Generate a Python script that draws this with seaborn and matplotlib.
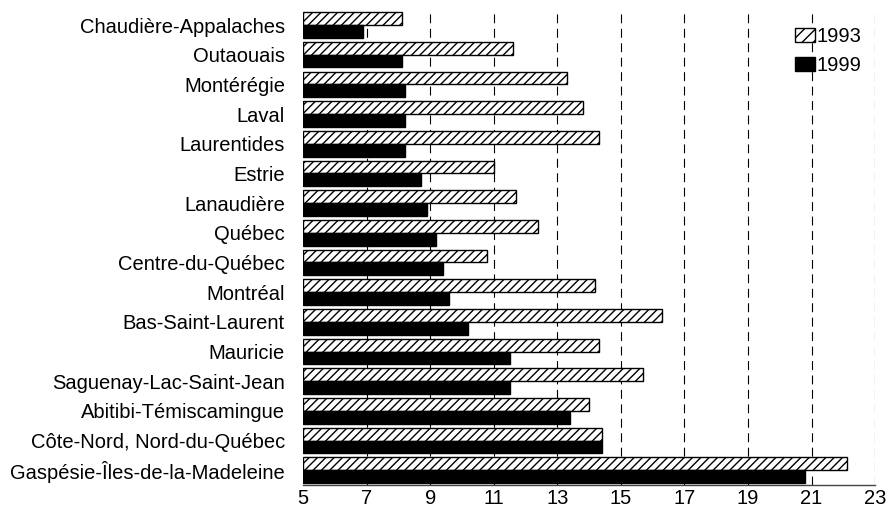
import numpy as np
import pandas as pd
import matplotlib
matplotlib.use("Agg")
import matplotlib.pyplot as plt
import seaborn as sns
from matplotlib.patches import Patch

# regions, top to bottom
regions = ["Chaudière-Appalaches", "Outaouais", "Montérégie", "Laval", "Laurentides",
           "Estrie", "Lanaudière", "Québec", "Centre-du-Québec", "Montréal",
           "Bas-Saint-Laurent", "Mauricie", "Saguenay-Lac-Saint-Jean",
           "Abitibi-Témiscamingue", "Côte-Nord, Nord-du-Québec",
           "Gaspésie-Îles-de-la-Madeleine"]
vals_1993 = [8.1, 11.6, 13.3, 13.8, 14.3, 11.0, 11.7, 12.4, 10.8, 14.2,
             16.3, 14.3, 15.7, 14.0, 14.4, 22.1]
vals_1999 = [6.9, 8.1, 8.2, 8.2, 8.2, 8.7, 8.9, 9.2, 9.4, 9.6,
             10.2, 11.5, 11.5, 13.4, 14.4, 20.8]
years = ["1993", "1999"]
x_ticks = [5, 7, 9, 11, 13, 15, 17, 19, 21, 23]

df = pd.DataFrame({
    "region": regions * 2,
    "year": [years[0]] * len(regions) + [years[1]] * len(regions),
    "value": vals_1993 + vals_1999,
})

sns.set_style("white")
plt.rcParams['font.family'] = ['Liberation Sans', 'DejaVu Sans']
plt.rcParams['hatch.linewidth'] = 1.0
plt.rcParams['text.color'] = 'black'
plt.rcParams['xtick.color'] = 'black'
plt.rcParams['ytick.color'] = 'black'

fig = plt.figure(figsize=(8.87, 5.09), dpi=100)
ax = fig.add_axes([0.3416, 0.047, 0.645, 0.933])

sns.barplot(data=df, y="region", x="value", hue="year", order=regions,
            hue_order=years, orient="h", width=0.86, gap=0,
            palette={"1993": "white", "1999": "black"},
            edgecolor="black", linewidth=1.0, ax=ax, legend=False)

# bars start at 5 (axis origin)
n = len(regions)
for i, p in enumerate(ax.patches[:2 * n]):
    w = p.get_width()
    p.set_x(5)
    p.set_width(w - 5)
    if i < n:
        p.set_hatch("////")
    p.set_zorder(3)

ax.set_xlim(5, 23)
ax.set_xticks(x_ticks)
ax.set_xticklabels([str(t) for t in x_ticks])
for v in x_ticks[1:]:
    ax.axvline(v, color="black", lw=0.8, ls=(0, (8, 5)), zorder=1)

for s in ["left", "top", "right"]:
    ax.spines[s].set_visible(False)
ax.spines["bottom"].set_color("#444444")
ax.spines["bottom"].set_linewidth(1.0)
ax.spines["bottom"].set_zorder(4)

ax.tick_params(axis="x", direction="in", length=4, width=1, color="#444444",
               labelsize=14.5, pad=3)
ax.tick_params(axis="y", length=0, labelsize=14.5, pad=13)
ax.set_xlabel("")
ax.set_ylabel("")

handles = [Patch(facecolor="white", edgecolor="black", hatch="///", label="1993"),
           Patch(facecolor="black", edgecolor="black", label="1999")]
ax.legend(handles=handles, loc="upper right", bbox_to_anchor=(0.99, 0.982),
          frameon=False, fontsize=14.5, handlelength=1.0, handleheight=0.7,
          handletextpad=0.05, labelspacing=0.5, borderaxespad=0)

fig.savefig("out.png", dpi=100)
